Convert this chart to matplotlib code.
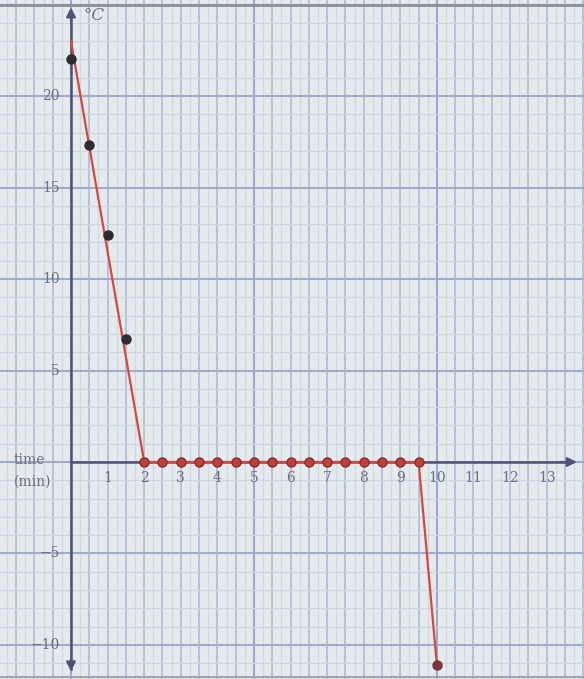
import numpy as np
import matplotlib.pyplot as plt

# measured temperatures while cooling (black dots)
cool_t = [0.0, 0.5, 1.0, 1.5]
cool_T = [22.0, 17.3, 12.4, 6.7]

# freezing plateau readings (red dots)
flat_t = [2.0, 2.5, 3.0, 3.5, 4.0, 4.5, 5.0, 5.5, 6.0, 6.5, 7.0, 7.5, 8.0, 8.5, 9.0, 9.5]
flat_T = [0, 0, 0, 0, 0, 0, 0, 0, 0, 0, 0, 0, 0, 0, 0, 0]

# last reading after the plateau
last_t = [10.0]
last_T = [-11.1]

# hand-drawn trend line through the readings
trend_t = [0.0, 2.0, 9.5, 10.0]
trend_T = [23.0, 0.0, 0.0, -11.1]

ytick_vals = [20, 15, 10, 5, -5, -10]
xtick_vals = [1, 2, 3, 4, 5, 6, 7, 8, 9, 10, 11, 12, 13]

fig = plt.figure(figsize=(5.84, 6.79), dpi=100)
ax = fig.add_axes([0, 0, 1, 1])
ax.set_xlim(-1.94, 14.02)
ax.set_ylim(-11.86, 25.25)
ax.set_facecolor('#e5eaec')
for s in ax.spines.values():
    s.set_visible(False)
ax.set_xticks([])
ax.set_yticks([])

# graph paper
for x in np.arange(-2.0, 14.5, 0.25):
    if abs(x % 5) < 1e-9:
        ax.axvline(x, color='#9ea8cc', lw=1.5, zorder=1)
    elif abs(x % 0.5) < 1e-9:
        ax.axvline(x, color='#b2bad6', lw=1.2, zorder=1)
    else:
        ax.axvline(x, color='#d2d7e4', lw=0.9, zorder=1)
for y in np.arange(-12, 26, 1):
    if y % 5 == 0:
        ax.axhline(y, color='#a0aacb', lw=1.5, zorder=1)
    else:
        ax.axhline(y, color='#d0d5e3', lw=0.9, zorder=1)

# page edges
ax.axhline(24.97, color='#8a8f9a', lw=2, zorder=2)
ax.axhline(-11.75, color='#a0a4ac', lw=1.5, zorder=2)

axis_col = '#4e5372'
ax.plot([0, 0], [-11.3, 24.6], color=axis_col, lw=1.8, zorder=3)
ax.plot([0, 13.7], [0, 0], color=axis_col, lw=1.8, zorder=3)
ax.annotate('', xy=(0, 25.0), xytext=(0, 23.8),
            arrowprops=dict(arrowstyle='-|>', color=axis_col, lw=1.5, mutation_scale=14), zorder=3)
ax.annotate('', xy=(0, -11.6), xytext=(0, -10.6),
            arrowprops=dict(arrowstyle='-|>', color=axis_col, lw=1.5, mutation_scale=14), zorder=3)
ax.annotate('', xy=(13.9, 0), xytext=(13.3, 0),
            arrowprops=dict(arrowstyle='-|>', color=axis_col, lw=1.5, mutation_scale=14), zorder=3)

txt_col = '#6b6e80'
font = dict(family='DejaVu Serif', color=txt_col, fontsize=10)
for v in ytick_vals:
    ax.text(-0.3, v, str(v).replace('-', '\u2212'), ha='right', va='center', **font)
for v in xtick_vals:
    ax.text(v, -0.9, str(v), ha='center', va='center', **font)
ax.text(-1.15, 0.1, 'time', ha='center', va='center', **font)
ax.text(-1.05, -1.05, '(min)', ha='center', va='center', **font)
ax.text(0.35, 24.4, '°C', ha='left', va='center', family='DejaVu Serif',
        color=txt_col, fontsize=12, style='italic')

# trend line and readings
ax.plot(trend_t, trend_T, color='#d8473c', lw=1.6, zorder=4)
ax.plot(cool_t, cool_T, 'o', color='#2f2b2e', ms=6.5, zorder=5)
ax.plot(flat_t, flat_T, 'o', color='#c0403a', mec='#8a2a2a', ms=6.5, zorder=5)
ax.plot(last_t, last_T, 'o', color='#7a3540', ms=6.5, zorder=5)

fig.savefig('out.png', dpi=100)
